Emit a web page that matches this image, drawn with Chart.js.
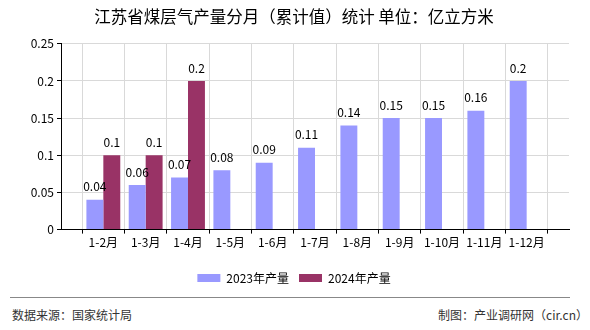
<!DOCTYPE html>
<html>
<head>
<meta charset="utf-8">
<script src="https://cdn.jsdelivr.net/npm/chart.js@4/dist/chart.umd.min.js"></script>
<style>
  body { margin: 0; background: #fff; font-family: "Noto Sans CJK SC", sans-serif; }
  #wrap { position: relative; width: 590px; height: 330px; }
  #chart-box { position: absolute; left: 0; top: 0; width: 590px; height: 294px; }
  #footer-line { position: absolute; left: 10px; top: 297px; width: 560px; height: 1px; background: #888; }
  .foot { position: absolute; top: 306px; font-size: 12px; color: #333; line-height: 18px; }
</style>
</head>
<body>
<div id="wrap">
  <div id="chart-box"><canvas id="coalbedChart"></canvas></div>
  <div id="footer-line"></div>
  <div class="foot" style="left: 12px;">数据来源：国家统计局</div>
  <div class="foot" style="right: 2px;">制图：产业调研网（cir.cn）</div>
</div>
<script>
const categories = ['1-2月', '1-3月', '1-4月', '1-5月', '1-6月', '1-7月', '1-8月', '1-9月', '1-10月', '1-11月', '1-12月'];
const output2023 = [0.04, 0.06, 0.07, 0.08, 0.09, 0.11, 0.14, 0.15, 0.15, 0.16, 0.2];
const output2024 = [0.1, 0.1, 0.2];
const seriesNames = ['2023年产量', '2024年产量'];
const yTicks = [0, 0.05, 0.1, 0.15, 0.2, 0.25];

const FONT = '"Noto Sans CJK SC", sans-serif';

// empty slot on each side so the bars sit on the grid lines like the original
function padSeries(values) {
  const out = [null];
  categories.forEach((c, i) => out.push(values[i] !== undefined ? values[i] : null));
  out.push(null);
  return out;
}
const labels = [''].concat(categories, ['']);

/*
*   Writes the value above each bar
*/
const valueLabels = {
  id: 'valueLabels',
  afterDatasetsDraw(chart) {
    const ctx = chart.ctx;
    ctx.save();
    ctx.font = '12px ' + FONT;
    ctx.fillStyle = '#000';
    ctx.textAlign = 'center';
    ctx.textBaseline = 'middle';
    chart.data.datasets.forEach((ds, di) => {
      const meta = chart.getDatasetMeta(di);
      meta.data.forEach((bar, i) => {
        const v = ds.data[i];
        if (v === null || v === undefined) return;
        ctx.fillText(String(v), bar.x, bar.y - 13);
      });
    });
    ctx.restore();
  }
};

new Chart(document.getElementById('coalbedChart'), {
  type: 'bar',
  data: {
    labels: labels,
    datasets: [
      { label: seriesNames[0], data: padSeries(output2023), backgroundColor: '#9999ff' },
      { label: seriesNames[1], data: padSeries(output2024), backgroundColor: '#993366' }
    ]
  },
  options: {
    responsive: true,
    maintainAspectRatio: false,
    animation: false,
    categoryPercentage: 0.8,
    barPercentage: 1.0,
    // left/right padding chosen so title + legend centre near x=294 like the original
    layout: { padding: { left: 19, right: 21, top: 0, bottom: 0 } },
    plugins: {
      title: {
        display: true,
        text: '江苏省煤层气产量分月（累计值）统计 单位：亿立方米',
        color: '#000',
        font: { family: FONT, size: 16.5, weight: 'normal' },
        padding: { top: 7, bottom: 17 }
      },
      legend: {
        display: true,
        position: 'bottom',
        labels: {
          boxWidth: 23,
          boxHeight: 8,
          padding: 10,
          color: '#000',
          font: { family: FONT, size: 12 }
        }
      },
      tooltip: { enabled: false }
    },
    scales: {
      x: {
        offset: false,
        afterFit(scale) { scale.height += 10; },
        grid: { color: '#d9d9d9', tickColor: '#000', tickLength: 4 },
        border: { color: '#000' },
        ticks: {
          autoSkip: false,
          maxRotation: 0,
          color: '#000',
          padding: 2,
          font: { family: FONT, size: 12 }
        }
      },
      y: {
        min: 0,
        max: 0.25,
        afterFit(scale) { scale.width = 42; },
        afterBuildTicks(scale) { scale.ticks = yTicks.map(v => ({ value: v })); },
        grid: { color: '#d9d9d9', tickColor: '#000', tickLength: 4 },
        border: { color: '#000' },
        ticks: {
          color: '#000',
          padding: 3,
          font: { family: FONT, size: 12 },
          callback: v => String(+v.toFixed(2))
        }
      }
    }
  },
  plugins: [valueLabels]
});
</script>
</body>
</html>
